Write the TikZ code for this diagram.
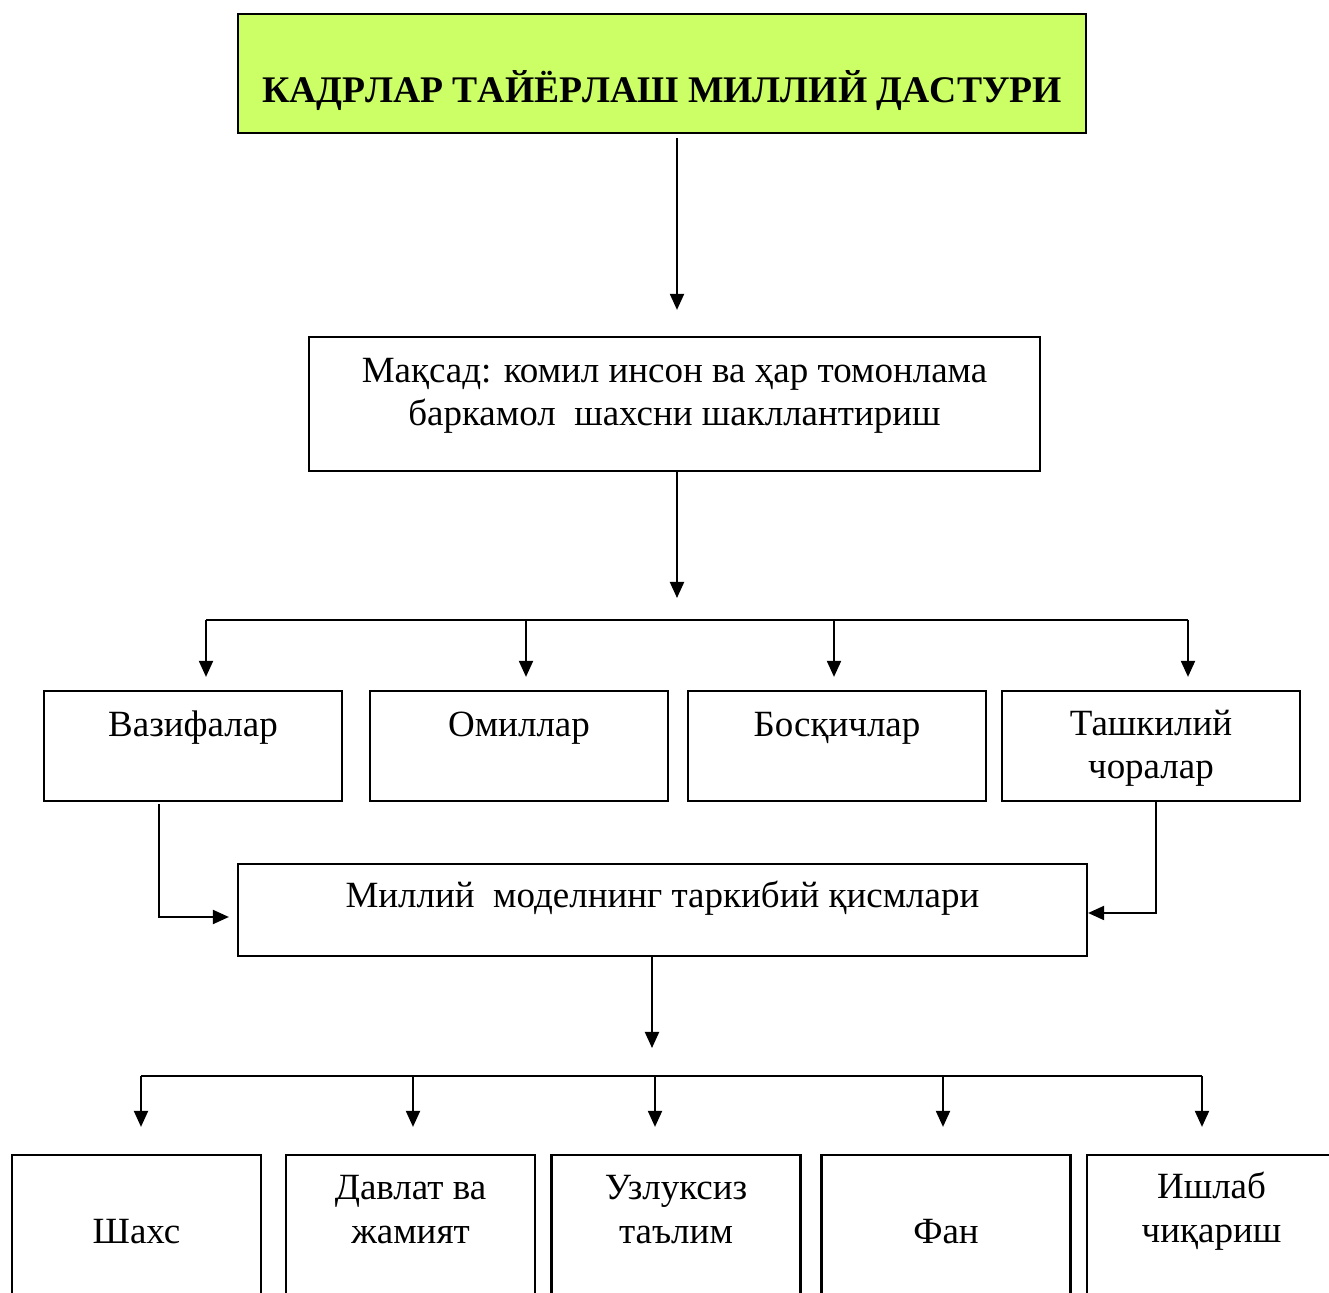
\documentclass[tikz,border=0pt]{standalone}
\usepackage{fontspec}
\setmainfont{Liberation Serif}
\usepackage{tikz}
\usepackage{xcolor}
\usetikzlibrary{arrows.meta}

\definecolor{titlegreen}{HTML}{CCFF66}

\tikzset{
  box/.style={draw, line width=1.1pt, inner sep=0pt},
  rowbox/.style={box, minimum width=149pt, minimum height=55pt},
  lowbox/.style={box, minimum width=124.5pt, minimum height=92.5pt},
  txt/.style={anchor=base, align=center, inner sep=0pt, font=\fontsize{18.5}{21.75}\selectfont},
  arr/.style={line width=1pt, -{Triangle[length=8pt, width=7pt]}},
  bus/.style={line width=1pt}
}

\begin{document}
\begin{tikzpicture}[x=0.5pt, y=-0.5pt]
  \clip (0,0) rectangle (1329,1293);

  \node[box, fill=titlegreen, minimum width=424pt, minimum height=59.5pt] (title) at (662,73.5) {};
  \node[txt, font=\fontsize{18.8}{22}\selectfont\bfseries\addfontfeatures{Kerning=Off}] (title-t) at (662,103) {КАДРЛАР ТАЙЁРЛАШ МИЛЛИЙ ДАСТУРИ};

  \node[box, minimum width=365.5pt, minimum height=67pt] (goal) at (674.5,404) {};
  \node[txt] (goal-t) at (674.5,426) {Мақсад: комил инсон ва ҳар томонлама\\баркамол\ \ шахсни шакллантириш};

  \node[rowbox] (vazifa)  at (193,746)  {};
  \node[rowbox] (omil)    at (519,746)  {};
  \node[rowbox] (bosqich) at (837,746)  {};
  \node[rowbox] (tashkil) at (1151,746) {};
  \node[txt] (vazifa-t)  at (193,737)  {Вазифалар};
  \node[txt] (omil-t)    at (519,737)  {Омиллар};
  \node[txt] (bosqich-t) at (837,737)  {Босқичлар};
  \node[txt] (tashkil-t) at (1151,779) {Ташкилий\\чоралар};

  \node[box, minimum width=424.5pt, minimum height=46pt] (milliy) at (662.5,910) {};
  \node[txt] (milliy-t) at (662.5,908) {Миллий\ \ моделнинг таркибий қисмлари};

  \foreach \n/\x in {shaxs/136.5, davlat/410.5, uzluk/676, fan/946, ishlab/1211.5}
    \node[lowbox] (\n) at (\x,1247.5) {};
  \node[txt] (shaxs-t)  at (136.5,1243)  {Шахс};
  \node[txt] (davlat-t) at (410.5,1243)  {Давлат ва\\жамият};
  \node[txt] (uzluk-t)  at (676,1243)    {Узлуксиз\\таълим};
  \node[txt] (fan-t)    at (946,1243)    {Фан};
  \node[txt] (ishlab-t) at (1211.5,1242) {Ишлаб\\чиқариш};

  \coordinate (spine) at (677,0);
  \coordinate (bus1) at (677,620);
  \coordinate (bus2) at (652,1076);

  \draw[arr, shorten <=2pt, shorten >=13pt] (title.south -| spine) -- (goal.north -| spine);
  \draw[arr, shorten >=11pt] (goal.south -| spine) -- (bus1);

  \foreach \n/\x in {vazifa/206, omil/526, bosqich/834, tashkil/1188} {
    \coordinate (d-\n) at (\x,620);
    \draw[arr, shorten >=6.5pt] (d-\n) -- (d-\n |- \n.north);
  }
  \draw[bus] (d-vazifa) -- (d-tashkil);

  \draw[arr, shorten <=1pt, shorten >=4pt] ([xshift=-17pt]vazifa.south) |- ([yshift=-3.5pt]milliy.west);
  \draw[arr] ([xshift=2.5pt]tashkil.south) |- ([yshift=-1.5pt]milliy.east);

  \draw[arr, shorten >=14pt] (milliy.south -| bus2) -- (bus2);
  \foreach \n/\x in {shaxs/141, davlat/413, uzluk/655, fan/943, ishlab/1202} {
    \coordinate (e-\n) at (\x,1076);
    \draw[arr, shorten >=13.5pt] (e-\n) -- (e-\n |- \n.north);
  }
  \draw[bus] (e-shaxs) -- (e-ishlab);
\end{tikzpicture}
\end{document}
